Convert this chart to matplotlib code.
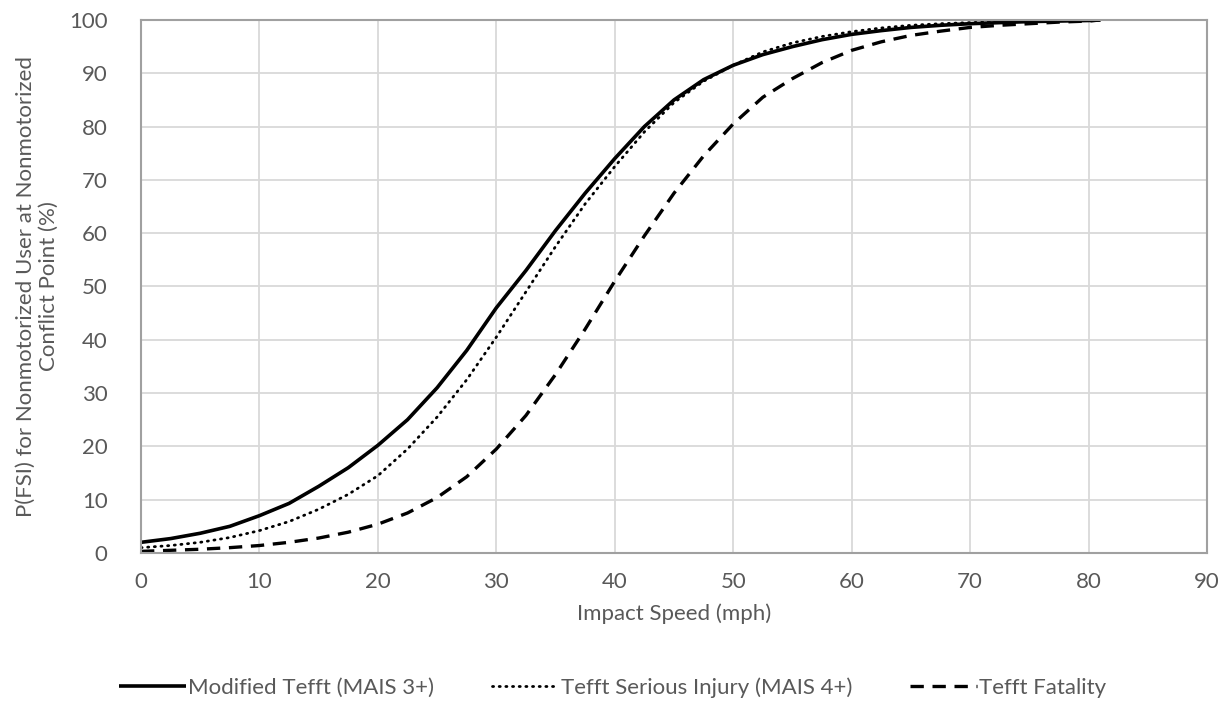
import matplotlib
matplotlib.use('Agg')
from matplotlib import pyplot as plt

speed=[0,2.5,5,7.5,10,12.5,15,17.5,20,22.5,25,27.5,30,32.5,35,37.5,40,42.5,45,47.5,
       50,52.5,55,57.5,60,62.5,65,67.5,70,72.5,75,77.5,80,81]
modified=[2.0,2.7,3.7,5.0,7.0,9.3,12.5,16.0,20.2,25.0,31.0,38.0,46.0,53.0,60.5,67.5,74.0,80.0,85.0,88.8,
          91.5,93.5,95.0,96.3,97.3,98.0,98.6,99.0,99.3,99.5,99.7,99.8,99.9,100.0]
serious=[1.0,1.4,2.0,2.9,4.2,5.9,8.2,11.0,14.5,19.5,25.5,32.5,40.5,49.0,57.5,65.5,72.5,79.0,84.5,88.5,
         91.5,94.0,95.7,96.9,97.8,98.5,99.0,99.3,99.5,99.7,99.8,99.9,99.9,100.0]
fatality=[0.3,0.5,0.7,1.0,1.4,2.0,2.8,3.9,5.4,7.5,10.4,14.3,19.5,25.8,33.5,42.0,51.0,59.5,67.5,74.5,
          80.5,85.5,89.0,92.0,94.3,95.9,97.1,97.9,98.6,99.0,99.3,99.6,99.8,100.0]
xticks=list(range(0,91,10))
yticks=list(range(0,101,10))

grey='#595959'
fs=16
plt.rcParams['font.family']=['Lato','DejaVu Sans']

fig=plt.figure(figsize=(12.25,7.03),dpi=100)
ax=fig.add_axes([0.1151,0.2134,0.8702,0.7582])
ax.plot(speed,modified,color='black',lw=2.6,label='Modified Tefft (MAIS 3+)',solid_capstyle='butt')
ax.plot(speed,serious,color='black',lw=2,linestyle=(0,(0.4,2.0)),dash_capstyle='round',label='Tefft Serious Injury (MAIS 4+)')
ax.plot(speed,fatality,color='black',lw=2.4,linestyle=(0,(4,2.6)),label='Tefft Fatality')

ax.set_xlim(0,90)
ax.set_ylim(0,100)
ax.set_xticks(xticks)
ax.set_yticks(yticks)
ax.grid(True,color='#d9d9d9',lw=1.3)
ax.set_axisbelow(True)
for s in ax.spines.values():
    s.set_color('#a0a0a0')
    s.set_linewidth(1.5)
ax.tick_params(length=0,labelsize=fs,colors=grey,pad=14)
ax.tick_params(axis='y',pad=24)
ax.set_xlabel('Impact Speed (mph)',fontsize=fs,color=grey,labelpad=8)
ax.set_ylabel('P(FSI) for Nonmotorized User at Nonmotorized\nConflict Point (%)',fontsize=fs,color=grey,labelpad=7)
for lab in ax.get_xticklabels():
    lab.set_clip_on(False)

fig.legend(loc='center',bbox_to_anchor=(0.5,0.022),ncol=3,frameon=False,fontsize=fs,
           labelcolor=grey,handlelength=3.0,handletextpad=0.1,columnspacing=2.6)
fig.savefig('out.png',dpi=100)
plt.close()
